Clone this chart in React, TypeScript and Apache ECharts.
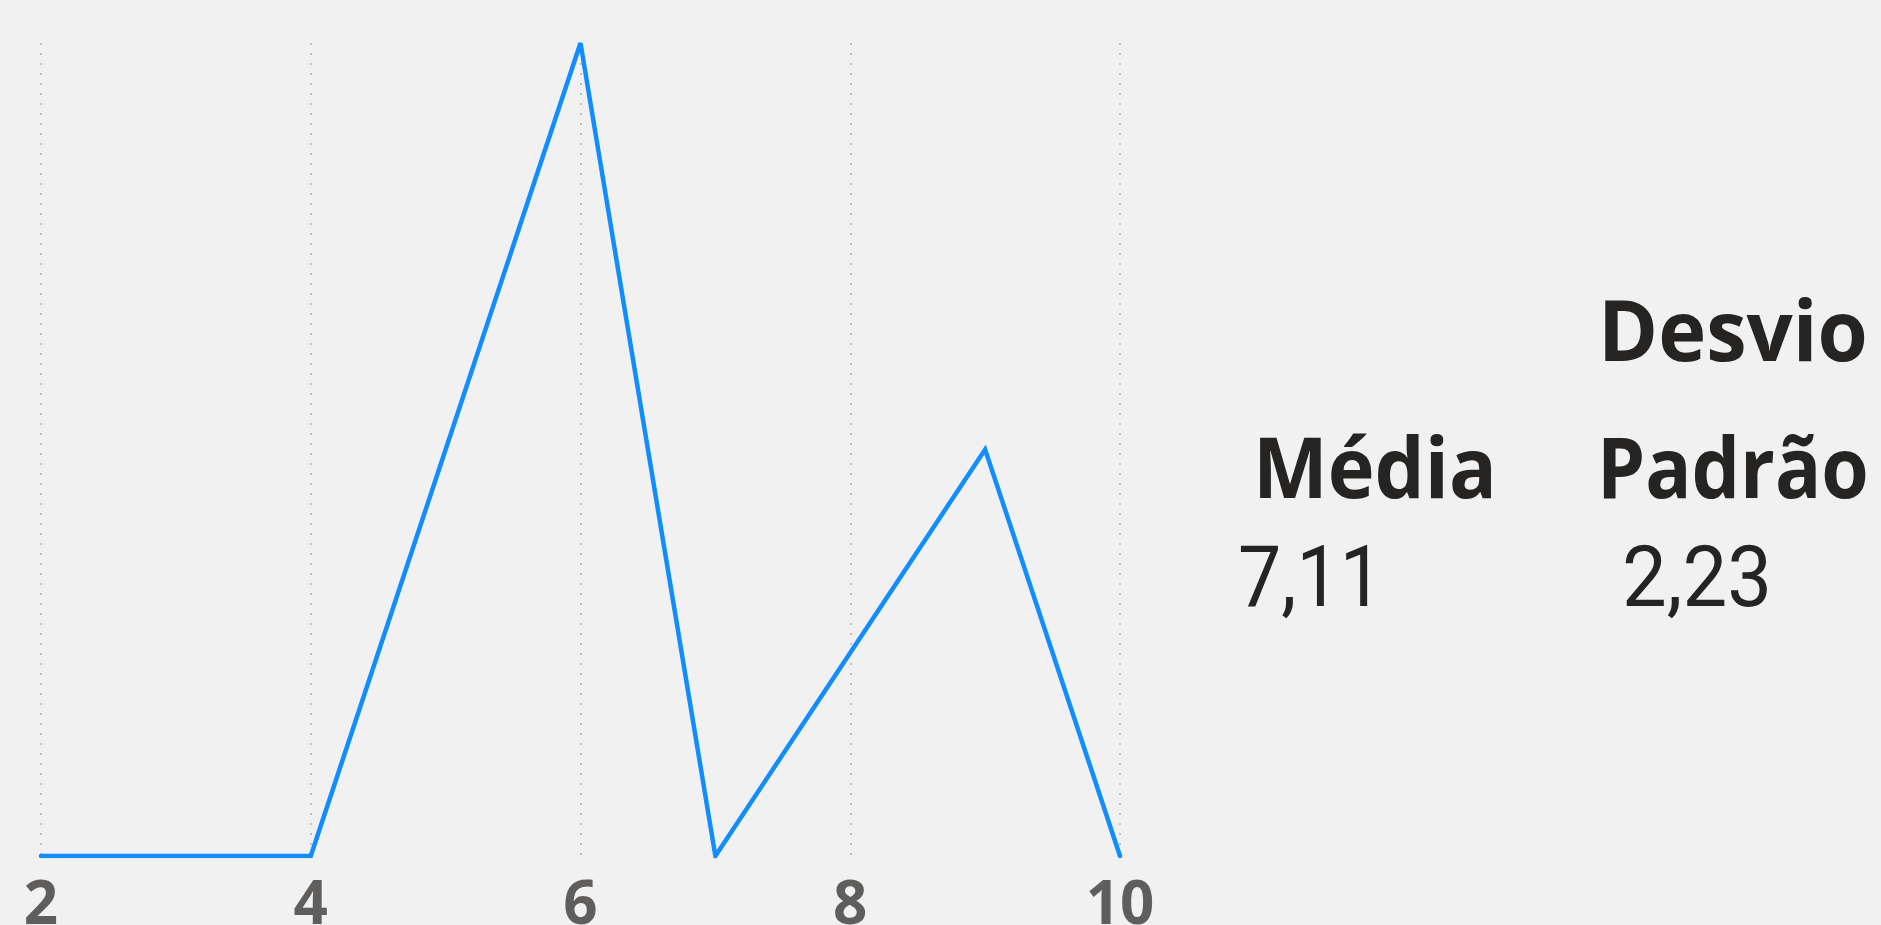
import React, { useEffect, useRef } from "react";
import * as echarts from "echarts";

const xValues = [2, 4, 6, 7, 9, 10];
const yValues = [0, 0, 2, 0, 1, 0];
const xTicks = { min: 2, max: 10, interval: 2 };
const statHeaders = ["Média", "Desvio", "Padrão"];
const statValues = ["7,11", "2,23"];

function fitScale(text: string, font: string, target: number): number {
  const c = document.createElement("canvas").getContext("2d");
  if (!c) return 1;
  c.font = font;
  const w = c.measureText(text).width;
  return w > 0 ? target / w : 1;
}

export default function App() {
  const ref = useRef<HTMLDivElement>(null);
  useEffect(() => {
    document.body.style.margin = "0";
    const chart = echarts.init(ref.current!, null, { renderer: "svg" });
    const headFont = { fontFamily: "Open Sans", fontWeight: "bold" as const, fontSize: 85, fill: "#252423" };
    const headCss = "bold 85px 'Open Sans'";
    const valFont = { fontFamily: "Roboto", fontWeight: "normal" as const, fontSize: 86, fill: "#252423" };
    const valCss = "normal 86px Roboto";
    const head = (text: string, x: number, baseline: number, w: number) => ({
      type: "text",
      x,
      y: baseline - 0.38 * 85,
      scaleX: fitScale(text, headCss, w),
      style: { ...headFont, text, align: "left", verticalAlign: "middle" },
    });
    const val = (text: string, x: number, baseline: number, w: number) => ({
      type: "text",
      x,
      y: baseline - 0.36 * 86,
      scaleX: fitScale(text, valCss, w),
      style: { ...valFont, text, align: "left", verticalAlign: "middle" },
    });
    chart.setOption({
      animation: false,
      backgroundColor: "#F1F1F1",
      grid: { left: 41, right: 761, top: 43, bottom: 69, outerBoundsMode: "none", containLabel: false },
      xAxis: {
        type: "value",
        min: xTicks.min,
        max: xTicks.max,
        interval: xTicks.interval,
        axisLine: { show: false },
        axisTick: { show: false },
        axisLabel: {
          color: "#605E5C",
          fontFamily: "Open Sans",
          fontWeight: "bold",
          fontSize: 60,
          margin: 15,
        },
        splitLine: { show: true, lineStyle: { color: "#C0C0C0", width: 2, type: [2, 8] } },
      },
      yAxis: {
        type: "value",
        min: 0,
        max: 2,
        show: false,
        splitLine: { show: false },
      },
      series: [
        {
          type: "line",
          data: xValues.map((x, i) => [x, yValues[i]]),
          showSymbol: false,
          lineStyle: { color: "#118DFF", width: 4.5, join: "miter", cap: "round" },
          itemStyle: { color: "#118DFF" },
        },
      ],
      graphic: [
        head(statHeaders[0], 1253, 497, 244),
        head(statHeaders[1], 1598, 360, 270),
        head(statHeaders[2], 1597, 497, 272),
        val(statValues[0], 1238, 607, 145),
        val(statValues[1], 1622, 607, 150),
      ],
    });
    return () => chart.dispose();
  }, []);
  return <div ref={ref} style={{ width: 1881, height: 925 }} />;
}
